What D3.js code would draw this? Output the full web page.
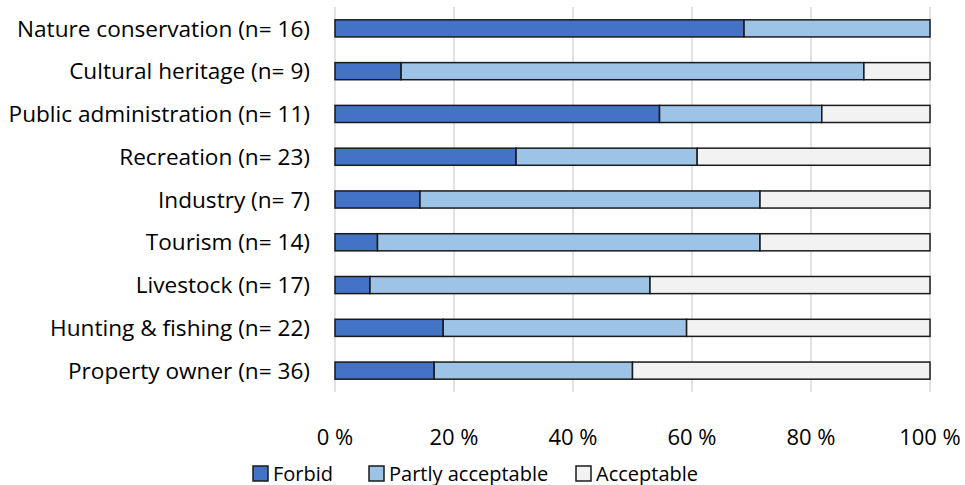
<!DOCTYPE html>
<html>
<head>
<meta charset="utf-8">
<script src="https://cdn.jsdelivr.net/npm/d3@7"></script>
<style>
    body { margin: 0; background: #fff; }
    #chart text { font-family: "Open Sans", sans-serif; fill: #000; }
</style>
</head>
<body>
<svg id="chart" width="965" height="485"></svg>
<script>
    // respondents per answer, by stakeholder group
    const categories = ["Nature conservation", "Cultural heritage", "Public administration", "Recreation",
        "Industry", "Tourism", "Livestock", "Hunting & fishing", "Property owner"];
    const sampleSizes = [16, 9, 11, 23, 7, 14, 17, 22, 36];
    const forbid = [11, 1, 6, 7, 1, 1, 1, 4, 6];
    const partlyAcceptable = [5, 7, 3, 7, 4, 9, 8, 9, 12];
    const acceptable = [0, 1, 2, 9, 2, 4, 8, 9, 18];

    const seriesNames = ["Forbid", "Partly acceptable", "Acceptable"];
    const seriesColors = ["#4472C4", "#9DC3E6", "#F2F2F2"];
    const tickValues = [0, 0.2, 0.4, 0.6, 0.8, 1];

    let rows = categories.map((c, i) => ({
        label: `${c} (n= ${sampleSizes[i]})`,
        "Forbid": forbid[i] / sampleSizes[i],
        "Partly acceptable": partlyAcceptable[i] / sampleSizes[i],
        "Acceptable": acceptable[i] / sampleSizes[i]
    }));

    let svg = d3.select("#chart");
    let x = d3.scaleLinear().domain([0, 1]).range([335, 930]);
    let y = d3.scaleBand().domain(rows.map(d => d.label)).range([7, 392]).paddingInner(0.6).paddingOuter(0.3);
    let color = d3.scaleOrdinal().domain(seriesNames).range(seriesColors);

    // gridlines
    svg.append("g")
        .selectAll("line")
        .data(tickValues)
        .join("line")
        .attr("x1", d => x(d))
        .attr("x2", d => x(d))
        .attr("y1", 7)
        .attr("y2", 392)
        .attr("stroke", "#D9D9D9")
        .attr("stroke-width", 1.5);

    let stacked = d3.stack().keys(seriesNames)(rows);

    svg.append("g")
        .selectAll("g")
        .data(stacked)
        .join("g")
        .attr("fill", d => color(d.key))
        .selectAll("rect")
        .data(d => d.filter(p => p[1] - p[0] > 0))
        .join("rect")
        .attr("x", d => x(d[0]))
        .attr("y", d => y(d.data.label))
        .attr("width", d => x(d[1]) - x(d[0]))
        .attr("height", y.bandwidth())
        .attr("stroke", "#1a1a1a")
        .attr("stroke-width", 1.5);

    // category labels
    svg.append("g")
        .selectAll("text")
        .data(rows)
        .join("text")
        .attr("x", 310)
        .attr("y", d => y(d.label) + y.bandwidth() / 2)
        .attr("dy", "0.36em")
        .attr("text-anchor", "end")
        .attr("font-size", 22.6)
        .text(d => d.label);

    // x tick labels
    svg.append("g")
        .selectAll("text")
        .data(tickValues)
        .join("text")
        .attr("x", d => x(d))
        .attr("y", 445)
        .attr("text-anchor", "middle")
        .attr("font-size", 22)
        .text(d => `${Math.round(d * 100)} %`);

    // legend
    let legendX = [253, 369, 576];
    let legend = svg.append("g")
        .selectAll("g")
        .data(seriesNames)
        .join("g")
        .attr("transform", (d, i) => `translate(${legendX[i]},466)`);
    legend.append("rect")
        .attr("width", 15)
        .attr("height", 15)
        .attr("fill", d => color(d))
        .attr("stroke", "#1a1a1a")
        .attr("stroke-width", 1.5);
    legend.append("text")
        .attr("x", 20)
        .attr("y", 14.5)
        .attr("font-size", 20)
        .text(d => d);
</script>
</body>
</html>
